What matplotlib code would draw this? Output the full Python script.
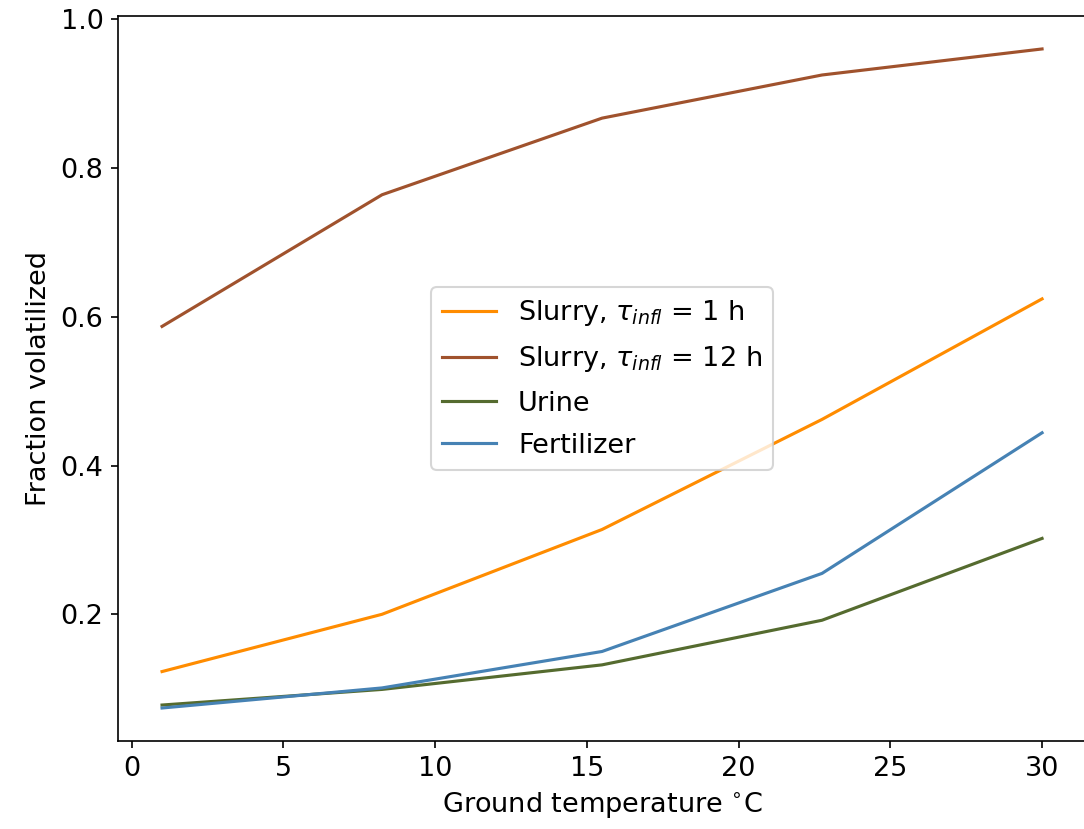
import matplotlib
matplotlib.use('Agg')
import matplotlib.pyplot as plt

# 数据
temperature = [1.0, 8.25, 15.5, 22.75, 30.0]
slurry_1h = [0.123, 0.200, 0.314, 0.462, 0.624]
slurry_12h = [0.587, 0.764, 0.867, 0.925, 0.960]
urine = [0.078, 0.099, 0.132, 0.192, 0.302]
fertilizer = [0.074, 0.101, 0.150, 0.255, 0.444]

FONTSIZE = 13
plt.rcParams['font.size'] = FONTSIZE

DPI = 150
fig = plt.figure(figsize=(1084 / DPI, 829 / DPI), dpi=DPI)
# 原图右侧被裁掉一点，坐标轴延伸到画布外
ax = fig.add_axes([0.1089, 0.1062, 0.8930, 0.8745])

ax.plot(temperature, slurry_1h, color='darkorange', lw=1.5, label=r'Slurry, $\tau_{infl}$ = 1 h')
ax.plot(temperature, slurry_12h, color='sienna', lw=1.5, label=r'Slurry, $\tau_{infl}$ = 12 h')
ax.plot(temperature, urine, color='darkolivegreen', lw=1.5, label='Urine')
ax.plot(temperature, fertilizer, color='steelblue', lw=1.5, label='Fertilizer')

ax.set_xticks([0, 5, 10, 15, 20, 25, 30])
ax.set_yticks([0.2, 0.4, 0.6, 0.8, 1.0])
ax.set_xlabel(r'Ground temperature $^{\circ}$C')
ax.set_ylabel('Fraction volatilized')
ax.legend(loc='center', labelspacing=0.6)

plt.savefig('out.png', dpi=DPI)
